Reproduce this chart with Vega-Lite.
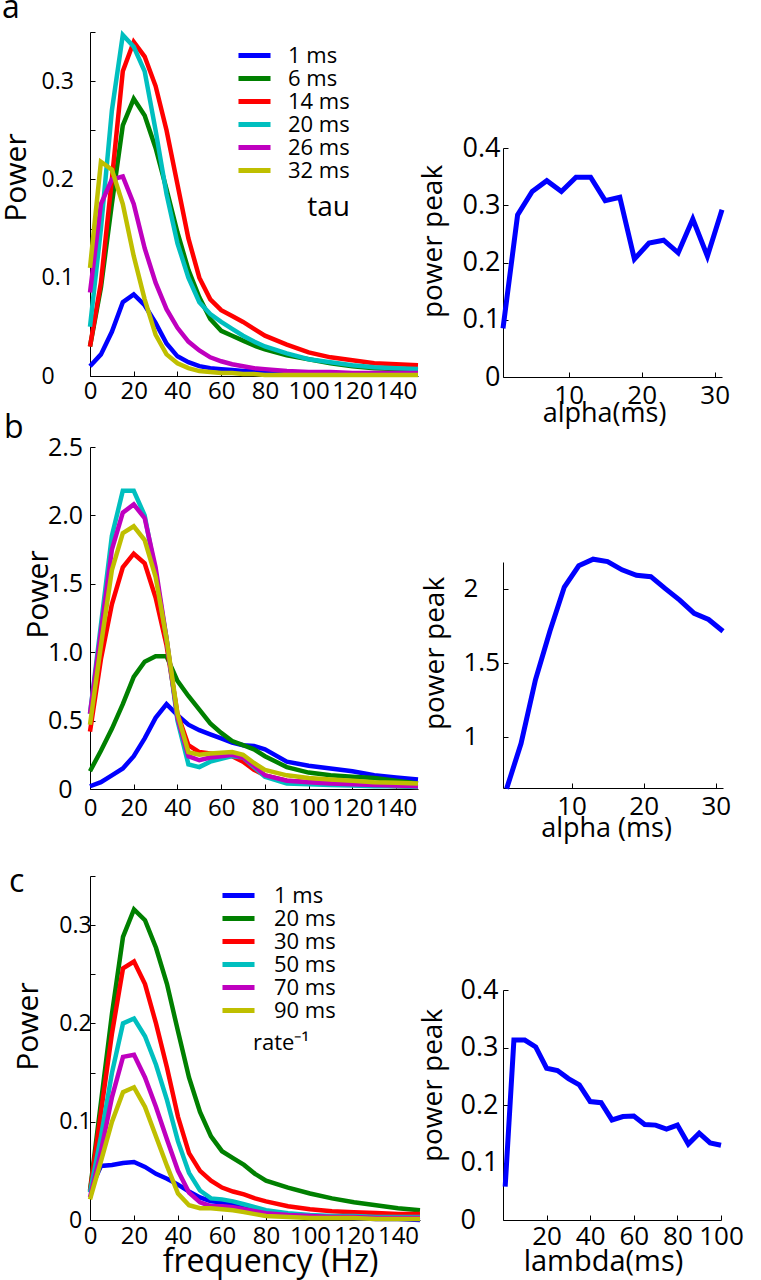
{
"$schema":"https://vega.github.io/schema/vega-lite/v6.json",
"padding":{"left":1,"top":-8,"right":0,"bottom":10},
"background":"white",
"config":{"font":"Open Sans","view":{"stroke":null},
"axis":{"grid":false,"domainColor":"black","tickColor":"black","labelColor":"black","titleColor":"black","titleFontWeight":"normal","domainWidth":1,"tickWidth":1,"labelOverlap":false,"labelFlush":false,"labelBound":false},
"legend":{"labelColor":"black","titleColor":"black","titleFontWeight":"normal"},
"title":{"color":"black","fontWeight":"normal"}},
"datasets":{
"spec_a":[
{"s":"1 ms","f":0,"p":0.010},{"s":"1 ms","f":5,"p":0.022},{"s":"1 ms","f":10,"p":0.045},{"s":"1 ms","f":15,"p":0.075},{"s":"1 ms","f":20,"p":0.083},{"s":"1 ms","f":25,"p":0.072},{"s":"1 ms","f":30,"p":0.054},{"s":"1 ms","f":35,"p":0.033},{"s":"1 ms","f":40,"p":0.020},{"s":"1 ms","f":45,"p":0.014},{"s":"1 ms","f":50,"p":0.010},{"s":"1 ms","f":55,"p":0.008},{"s":"1 ms","f":60,"p":0.007},{"s":"1 ms","f":65,"p":0.006},{"s":"1 ms","f":70,"p":0.005},{"s":"1 ms","f":75,"p":0.005},{"s":"1 ms","f":80,"p":0.004},{"s":"1 ms","f":90,"p":0.003},{"s":"1 ms","f":100,"p":0.003},{"s":"1 ms","f":110,"p":0.002},{"s":"1 ms","f":120,"p":0.002},{"s":"1 ms","f":130,"p":0.002},{"s":"1 ms","f":140,"p":0.002},{"s":"1 ms","f":150,"p":0.002},
{"s":"6 ms","f":0,"p":0.030},{"s":"6 ms","f":5,"p":0.090},{"s":"6 ms","f":10,"p":0.175},{"s":"6 ms","f":15,"p":0.255},{"s":"6 ms","f":20,"p":0.282},{"s":"6 ms","f":25,"p":0.265},{"s":"6 ms","f":30,"p":0.232},{"s":"6 ms","f":35,"p":0.190},{"s":"6 ms","f":40,"p":0.146},{"s":"6 ms","f":45,"p":0.108},{"s":"6 ms","f":50,"p":0.080},{"s":"6 ms","f":55,"p":0.058},{"s":"6 ms","f":60,"p":0.046},{"s":"6 ms","f":65,"p":0.041},{"s":"6 ms","f":70,"p":0.036},{"s":"6 ms","f":75,"p":0.031},{"s":"6 ms","f":80,"p":0.027},{"s":"6 ms","f":90,"p":0.021},{"s":"6 ms","f":100,"p":0.017},{"s":"6 ms","f":110,"p":0.013},{"s":"6 ms","f":120,"p":0.010},{"s":"6 ms","f":130,"p":0.008},{"s":"6 ms","f":140,"p":0.007},{"s":"6 ms","f":150,"p":0.006},
{"s":"14 ms","f":0,"p":0.030},{"s":"14 ms","f":5,"p":0.095},{"s":"14 ms","f":10,"p":0.200},{"s":"14 ms","f":15,"p":0.310},{"s":"14 ms","f":20,"p":0.340},{"s":"14 ms","f":25,"p":0.325},{"s":"14 ms","f":30,"p":0.295},{"s":"14 ms","f":35,"p":0.250},{"s":"14 ms","f":40,"p":0.195},{"s":"14 ms","f":45,"p":0.140},{"s":"14 ms","f":50,"p":0.100},{"s":"14 ms","f":55,"p":0.078},{"s":"14 ms","f":60,"p":0.067},{"s":"14 ms","f":65,"p":0.061},{"s":"14 ms","f":70,"p":0.055},{"s":"14 ms","f":75,"p":0.048},{"s":"14 ms","f":80,"p":0.041},{"s":"14 ms","f":90,"p":0.032},{"s":"14 ms","f":100,"p":0.024},{"s":"14 ms","f":110,"p":0.019},{"s":"14 ms","f":120,"p":0.016},{"s":"14 ms","f":130,"p":0.013},{"s":"14 ms","f":140,"p":0.012},{"s":"14 ms","f":150,"p":0.011},
{"s":"20 ms","f":0,"p":0.050},{"s":"20 ms","f":5,"p":0.150},{"s":"20 ms","f":10,"p":0.270},{"s":"20 ms","f":15,"p":0.347},{"s":"20 ms","f":20,"p":0.335},{"s":"20 ms","f":25,"p":0.310},{"s":"20 ms","f":30,"p":0.250},{"s":"20 ms","f":35,"p":0.185},{"s":"20 ms","f":40,"p":0.135},{"s":"20 ms","f":45,"p":0.100},{"s":"20 ms","f":50,"p":0.075},{"s":"20 ms","f":55,"p":0.063},{"s":"20 ms","f":60,"p":0.055},{"s":"20 ms","f":65,"p":0.048},{"s":"20 ms","f":70,"p":0.041},{"s":"20 ms","f":75,"p":0.035},{"s":"20 ms","f":80,"p":0.030},{"s":"20 ms","f":90,"p":0.023},{"s":"20 ms","f":100,"p":0.017},{"s":"20 ms","f":110,"p":0.014},{"s":"20 ms","f":120,"p":0.011},{"s":"20 ms","f":130,"p":0.009},{"s":"20 ms","f":140,"p":0.008},{"s":"20 ms","f":150,"p":0.007},
{"s":"26 ms","f":0,"p":0.085},{"s":"26 ms","f":5,"p":0.175},{"s":"26 ms","f":10,"p":0.200},{"s":"26 ms","f":15,"p":0.203},{"s":"26 ms","f":20,"p":0.175},{"s":"26 ms","f":25,"p":0.130},{"s":"26 ms","f":30,"p":0.095},{"s":"26 ms","f":35,"p":0.068},{"s":"26 ms","f":40,"p":0.049},{"s":"26 ms","f":45,"p":0.035},{"s":"26 ms","f":50,"p":0.026},{"s":"26 ms","f":55,"p":0.019},{"s":"26 ms","f":60,"p":0.015},{"s":"26 ms","f":65,"p":0.012},{"s":"26 ms","f":70,"p":0.010},{"s":"26 ms","f":75,"p":0.008},{"s":"26 ms","f":80,"p":0.007},{"s":"26 ms","f":90,"p":0.005},{"s":"26 ms","f":100,"p":0.004},{"s":"26 ms","f":110,"p":0.004},{"s":"26 ms","f":120,"p":0.003},{"s":"26 ms","f":130,"p":0.003},{"s":"26 ms","f":140,"p":0.003},{"s":"26 ms","f":150,"p":0.003},
{"s":"32 ms","f":0,"p":0.110},{"s":"32 ms","f":5,"p":0.218},{"s":"32 ms","f":10,"p":0.210},{"s":"32 ms","f":15,"p":0.175},{"s":"32 ms","f":20,"p":0.122},{"s":"32 ms","f":25,"p":0.078},{"s":"32 ms","f":30,"p":0.042},{"s":"32 ms","f":35,"p":0.022},{"s":"32 ms","f":40,"p":0.013},{"s":"32 ms","f":45,"p":0.008},{"s":"32 ms","f":50,"p":0.005},{"s":"32 ms","f":55,"p":0.004},{"s":"32 ms","f":60,"p":0.003},{"s":"32 ms","f":65,"p":0.003},{"s":"32 ms","f":70,"p":0.002},{"s":"32 ms","f":75,"p":0.002},{"s":"32 ms","f":80,"p":0.001},{"s":"32 ms","f":90,"p":0.001},{"s":"32 ms","f":100,"p":0.001},{"s":"32 ms","f":110,"p":0.001},{"s":"32 ms","f":120,"p":0.001},{"s":"32 ms","f":130,"p":0.001},{"s":"32 ms","f":140,"p":0.001},{"s":"32 ms","f":150,"p":0.001}
],
"spec_b":[
{"s":"1 ms","f":0,"p":0.02},{"s":"1 ms","f":5,"p":0.05},{"s":"1 ms","f":10,"p":0.10},{"s":"1 ms","f":15,"p":0.15},{"s":"1 ms","f":20,"p":0.24},{"s":"1 ms","f":25,"p":0.37},{"s":"1 ms","f":30,"p":0.52},{"s":"1 ms","f":35,"p":0.62},{"s":"1 ms","f":40,"p":0.54},{"s":"1 ms","f":45,"p":0.47},{"s":"1 ms","f":50,"p":0.43},{"s":"1 ms","f":55,"p":0.40},{"s":"1 ms","f":60,"p":0.37},{"s":"1 ms","f":65,"p":0.34},{"s":"1 ms","f":70,"p":0.32},{"s":"1 ms","f":75,"p":0.315},{"s":"1 ms","f":80,"p":0.29},{"s":"1 ms","f":90,"p":0.20},{"s":"1 ms","f":100,"p":0.17},{"s":"1 ms","f":110,"p":0.15},{"s":"1 ms","f":120,"p":0.13},{"s":"1 ms","f":130,"p":0.10},{"s":"1 ms","f":140,"p":0.085},{"s":"1 ms","f":150,"p":0.07},
{"s":"6 ms","f":0,"p":0.13},{"s":"6 ms","f":5,"p":0.28},{"s":"6 ms","f":10,"p":0.44},{"s":"6 ms","f":15,"p":0.62},{"s":"6 ms","f":20,"p":0.82},{"s":"6 ms","f":25,"p":0.93},{"s":"6 ms","f":30,"p":0.97},{"s":"6 ms","f":35,"p":0.97},{"s":"6 ms","f":40,"p":0.79},{"s":"6 ms","f":45,"p":0.68},{"s":"6 ms","f":50,"p":0.58},{"s":"6 ms","f":55,"p":0.48},{"s":"6 ms","f":60,"p":0.41},{"s":"6 ms","f":65,"p":0.35},{"s":"6 ms","f":70,"p":0.32},{"s":"6 ms","f":75,"p":0.29},{"s":"6 ms","f":80,"p":0.24},{"s":"6 ms","f":90,"p":0.16},{"s":"6 ms","f":100,"p":0.12},{"s":"6 ms","f":110,"p":0.10},{"s":"6 ms","f":120,"p":0.09},{"s":"6 ms","f":130,"p":0.08},{"s":"6 ms","f":140,"p":0.06},{"s":"6 ms","f":150,"p":0.04},
{"s":"14 ms","f":0,"p":0.42},{"s":"14 ms","f":5,"p":0.95},{"s":"14 ms","f":10,"p":1.35},{"s":"14 ms","f":15,"p":1.62},{"s":"14 ms","f":20,"p":1.72},{"s":"14 ms","f":25,"p":1.65},{"s":"14 ms","f":30,"p":1.40},{"s":"14 ms","f":35,"p":1.05},{"s":"14 ms","f":40,"p":0.55},{"s":"14 ms","f":45,"p":0.32},{"s":"14 ms","f":50,"p":0.27},{"s":"14 ms","f":55,"p":0.26},{"s":"14 ms","f":60,"p":0.25},{"s":"14 ms","f":65,"p":0.24},{"s":"14 ms","f":70,"p":0.20},{"s":"14 ms","f":75,"p":0.14},{"s":"14 ms","f":80,"p":0.10},{"s":"14 ms","f":90,"p":0.06},{"s":"14 ms","f":100,"p":0.05},{"s":"14 ms","f":110,"p":0.04},{"s":"14 ms","f":120,"p":0.035},{"s":"14 ms","f":130,"p":0.03},{"s":"14 ms","f":140,"p":0.02},{"s":"14 ms","f":150,"p":0.015},
{"s":"20 ms","f":0,"p":0.55},{"s":"20 ms","f":5,"p":1.20},{"s":"20 ms","f":10,"p":1.85},{"s":"20 ms","f":15,"p":2.18},{"s":"20 ms","f":20,"p":2.18},{"s":"20 ms","f":25,"p":2.00},{"s":"20 ms","f":30,"p":1.58},{"s":"20 ms","f":35,"p":1.10},{"s":"20 ms","f":40,"p":0.50},{"s":"20 ms","f":45,"p":0.18},{"s":"20 ms","f":50,"p":0.16},{"s":"20 ms","f":55,"p":0.20},{"s":"20 ms","f":60,"p":0.22},{"s":"20 ms","f":65,"p":0.24},{"s":"20 ms","f":70,"p":0.23},{"s":"20 ms","f":75,"p":0.16},{"s":"20 ms","f":80,"p":0.09},{"s":"20 ms","f":90,"p":0.04},{"s":"20 ms","f":100,"p":0.035},{"s":"20 ms","f":110,"p":0.03},{"s":"20 ms","f":120,"p":0.025},{"s":"20 ms","f":130,"p":0.02},{"s":"20 ms","f":140,"p":0.02},{"s":"20 ms","f":150,"p":0.015},
{"s":"26 ms","f":0,"p":0.55},{"s":"26 ms","f":5,"p":1.15},{"s":"26 ms","f":10,"p":1.75},{"s":"26 ms","f":15,"p":2.02},{"s":"26 ms","f":20,"p":2.08},{"s":"26 ms","f":25,"p":1.98},{"s":"26 ms","f":30,"p":1.62},{"s":"26 ms","f":35,"p":1.10},{"s":"26 ms","f":40,"p":0.52},{"s":"26 ms","f":45,"p":0.24},{"s":"26 ms","f":50,"p":0.21},{"s":"26 ms","f":55,"p":0.23},{"s":"26 ms","f":60,"p":0.24},{"s":"26 ms","f":65,"p":0.25},{"s":"26 ms","f":70,"p":0.23},{"s":"26 ms","f":75,"p":0.17},{"s":"26 ms","f":80,"p":0.10},{"s":"26 ms","f":90,"p":0.06},{"s":"26 ms","f":100,"p":0.05},{"s":"26 ms","f":110,"p":0.04},{"s":"26 ms","f":120,"p":0.035},{"s":"26 ms","f":130,"p":0.03},{"s":"26 ms","f":140,"p":0.025},{"s":"26 ms","f":150,"p":0.02},
{"s":"32 ms","f":0,"p":0.47},{"s":"32 ms","f":5,"p":1.05},{"s":"32 ms","f":10,"p":1.60},{"s":"32 ms","f":15,"p":1.87},{"s":"32 ms","f":20,"p":1.92},{"s":"32 ms","f":25,"p":1.82},{"s":"32 ms","f":30,"p":1.55},{"s":"32 ms","f":35,"p":1.10},{"s":"32 ms","f":40,"p":0.55},{"s":"32 ms","f":45,"p":0.27},{"s":"32 ms","f":50,"p":0.25},{"s":"32 ms","f":55,"p":0.26},{"s":"32 ms","f":60,"p":0.265},{"s":"32 ms","f":65,"p":0.27},{"s":"32 ms","f":70,"p":0.25},{"s":"32 ms","f":75,"p":0.19},{"s":"32 ms","f":80,"p":0.14},{"s":"32 ms","f":90,"p":0.10},{"s":"32 ms","f":100,"p":0.08},{"s":"32 ms","f":110,"p":0.07},{"s":"32 ms","f":120,"p":0.06},{"s":"32 ms","f":130,"p":0.05},{"s":"32 ms","f":140,"p":0.045},{"s":"32 ms","f":150,"p":0.04}
],
"spec_c":[
{"s":"1 ms","f":0,"p":0.030},{"s":"1 ms","f":5,"p":0.055},{"s":"1 ms","f":10,"p":0.056},{"s":"1 ms","f":15,"p":0.058},{"s":"1 ms","f":20,"p":0.059},{"s":"1 ms","f":25,"p":0.054},{"s":"1 ms","f":30,"p":0.047},{"s":"1 ms","f":35,"p":0.042},{"s":"1 ms","f":40,"p":0.036},{"s":"1 ms","f":45,"p":0.029},{"s":"1 ms","f":50,"p":0.023},{"s":"1 ms","f":55,"p":0.019},{"s":"1 ms","f":60,"p":0.018},{"s":"1 ms","f":65,"p":0.016},{"s":"1 ms","f":70,"p":0.012},{"s":"1 ms","f":75,"p":0.009},{"s":"1 ms","f":80,"p":0.007},{"s":"1 ms","f":90,"p":0.005},{"s":"1 ms","f":100,"p":0.004},{"s":"1 ms","f":110,"p":0.003},{"s":"1 ms","f":120,"p":0.002},{"s":"1 ms","f":130,"p":0.001},{"s":"1 ms","f":140,"p":0.001},{"s":"1 ms","f":150,"p":0.0},
{"s":"20 ms","f":0,"p":0.030},{"s":"20 ms","f":5,"p":0.120},{"s":"20 ms","f":10,"p":0.210},{"s":"20 ms","f":15,"p":0.288},{"s":"20 ms","f":20,"p":0.316},{"s":"20 ms","f":25,"p":0.305},{"s":"20 ms","f":30,"p":0.277},{"s":"20 ms","f":35,"p":0.240},{"s":"20 ms","f":40,"p":0.192},{"s":"20 ms","f":45,"p":0.145},{"s":"20 ms","f":50,"p":0.110},{"s":"20 ms","f":55,"p":0.085},{"s":"20 ms","f":60,"p":0.070},{"s":"20 ms","f":65,"p":0.063},{"s":"20 ms","f":70,"p":0.056},{"s":"20 ms","f":75,"p":0.047},{"s":"20 ms","f":80,"p":0.040},{"s":"20 ms","f":90,"p":0.033},{"s":"20 ms","f":100,"p":0.027},{"s":"20 ms","f":110,"p":0.022},{"s":"20 ms","f":120,"p":0.018},{"s":"20 ms","f":130,"p":0.015},{"s":"20 ms","f":140,"p":0.012},{"s":"20 ms","f":150,"p":0.010},
{"s":"30 ms","f":0,"p":0.029},{"s":"30 ms","f":5,"p":0.110},{"s":"30 ms","f":10,"p":0.190},{"s":"30 ms","f":15,"p":0.256},{"s":"30 ms","f":20,"p":0.263},{"s":"30 ms","f":25,"p":0.240},{"s":"30 ms","f":30,"p":0.200},{"s":"30 ms","f":35,"p":0.155},{"s":"30 ms","f":40,"p":0.105},{"s":"30 ms","f":45,"p":0.068},{"s":"30 ms","f":50,"p":0.050},{"s":"30 ms","f":55,"p":0.040},{"s":"30 ms","f":60,"p":0.033},{"s":"30 ms","f":65,"p":0.029},{"s":"30 ms","f":70,"p":0.026},{"s":"30 ms","f":75,"p":0.022},{"s":"30 ms","f":80,"p":0.019},{"s":"30 ms","f":90,"p":0.014},{"s":"30 ms","f":100,"p":0.011},{"s":"30 ms","f":110,"p":0.009},{"s":"30 ms","f":120,"p":0.008},{"s":"30 ms","f":130,"p":0.007},{"s":"30 ms","f":140,"p":0.006},{"s":"30 ms","f":150,"p":0.006},
{"s":"50 ms","f":0,"p":0.028},{"s":"50 ms","f":5,"p":0.085},{"s":"50 ms","f":10,"p":0.150},{"s":"50 ms","f":15,"p":0.200},{"s":"50 ms","f":20,"p":0.205},{"s":"50 ms","f":25,"p":0.187},{"s":"50 ms","f":30,"p":0.158},{"s":"50 ms","f":35,"p":0.122},{"s":"50 ms","f":40,"p":0.080},{"s":"50 ms","f":45,"p":0.048},{"s":"50 ms","f":50,"p":0.030},{"s":"50 ms","f":55,"p":0.022},{"s":"50 ms","f":60,"p":0.021},{"s":"50 ms","f":65,"p":0.019},{"s":"50 ms","f":70,"p":0.016},{"s":"50 ms","f":75,"p":0.013},{"s":"50 ms","f":80,"p":0.010},{"s":"50 ms","f":90,"p":0.007},{"s":"50 ms","f":100,"p":0.005},{"s":"50 ms","f":110,"p":0.004},{"s":"50 ms","f":120,"p":0.004},{"s":"50 ms","f":130,"p":0.003},{"s":"50 ms","f":140,"p":0.003},{"s":"50 ms","f":150,"p":0.003},
{"s":"70 ms","f":0,"p":0.023},{"s":"70 ms","f":5,"p":0.070},{"s":"70 ms","f":10,"p":0.125},{"s":"70 ms","f":15,"p":0.166},{"s":"70 ms","f":20,"p":0.168},{"s":"70 ms","f":25,"p":0.145},{"s":"70 ms","f":30,"p":0.115},{"s":"70 ms","f":35,"p":0.082},{"s":"70 ms","f":40,"p":0.050},{"s":"70 ms","f":45,"p":0.028},{"s":"70 ms","f":50,"p":0.018},{"s":"70 ms","f":55,"p":0.014},{"s":"70 ms","f":60,"p":0.014},{"s":"70 ms","f":65,"p":0.013},{"s":"70 ms","f":70,"p":0.011},{"s":"70 ms","f":75,"p":0.009},{"s":"70 ms","f":80,"p":0.007},{"s":"70 ms","f":90,"p":0.005},{"s":"70 ms","f":100,"p":0.004},{"s":"70 ms","f":110,"p":0.003},{"s":"70 ms","f":120,"p":0.003},{"s":"70 ms","f":130,"p":0.002},{"s":"70 ms","f":140,"p":0.002},{"s":"70 ms","f":150,"p":0.002},
{"s":"90 ms","f":0,"p":0.021},{"s":"90 ms","f":5,"p":0.060},{"s":"90 ms","f":10,"p":0.100},{"s":"90 ms","f":15,"p":0.130},{"s":"90 ms","f":20,"p":0.135},{"s":"90 ms","f":25,"p":0.115},{"s":"90 ms","f":30,"p":0.085},{"s":"90 ms","f":35,"p":0.055},{"s":"90 ms","f":40,"p":0.027},{"s":"90 ms","f":45,"p":0.015},{"s":"90 ms","f":50,"p":0.012},{"s":"90 ms","f":55,"p":0.012},{"s":"90 ms","f":60,"p":0.011},{"s":"90 ms","f":65,"p":0.010},{"s":"90 ms","f":70,"p":0.008},{"s":"90 ms","f":75,"p":0.006},{"s":"90 ms","f":80,"p":0.004},{"s":"90 ms","f":90,"p":0.003},{"s":"90 ms","f":100,"p":0.002},{"s":"90 ms","f":110,"p":0.002},{"s":"90 ms","f":120,"p":0.002},{"s":"90 ms","f":130,"p":0.001},{"s":"90 ms","f":140,"p":0.001},{"s":"90 ms","f":150,"p":0.001}
],
"peak_a":[{"x":1,"v":0.085},{"x":3,"v":0.283},{"x":5,"v":0.324},{"x":7,"v":0.343},{"x":9,"v":0.324},{"x":11,"v":0.349},{"x":13,"v":0.349},{"x":15,"v":0.308},{"x":17,"v":0.314},{"x":19,"v":0.206},{"x":21,"v":0.234},{"x":23,"v":0.239},{"x":25,"v":0.217},{"x":27,"v":0.276},{"x":29,"v":0.211},{"x":31,"v":0.292}],
"peak_b":[{"x":1,"v":0.65},{"x":3,"v":0.955},{"x":5,"v":1.385},{"x":7,"v":1.713},{"x":9,"v":2.011},{"x":11,"v":2.154},{"x":13,"v":2.199},{"x":15,"v":2.183},{"x":17,"v":2.127},{"x":19,"v":2.090},{"x":21,"v":2.081},{"x":23,"v":2.0},{"x":25,"v":1.923},{"x":27,"v":1.833},{"x":29,"v":1.792},{"x":31,"v":1.713}],
"peak_c":[{"x":1,"v":0.058},{"x":5,"v":0.313},{"x":10,"v":0.313},{"x":15,"v":0.301},{"x":20,"v":0.264},{"x":25,"v":0.260},{"x":30,"v":0.246},{"x":35,"v":0.235},{"x":40,"v":0.206},{"x":45,"v":0.204},{"x":50,"v":0.174},{"x":55,"v":0.180},{"x":60,"v":0.181},{"x":65,"v":0.166},{"x":70,"v":0.165},{"x":75,"v":0.158},{"x":80,"v":0.165},{"x":85,"v":0.132},{"x":90,"v":0.151},{"x":95,"v":0.134},{"x":100,"v":0.130}]
},
"spacing":-11,
"resolve":{"scale":{"x":"independent","y":"independent","color":"independent"},"legend":{"color":"independent"}},
"hconcat":[
{"vconcat":[
 {"width":328,"height":344,"data":{"name":"spec_a"},
  "title":{"text":"a","anchor":"start","frame":"group","dx":-88,"offset":-29,"fontSize":32,"baseline":"alphabetic"},
  "mark":{"type":"line","strokeWidth":4.5},
  "encoding":{
   "x":{"field":"f","type":"quantitative","scale":{"domain":[0,150],"nice":false},"axis":{"title":null,"values":[0,20,40,60,80,100,120,140],"tickSize":-5,"labelPadding":8,"labelFontSize":24}},
   "y":{"field":"p","type":"quantitative","scale":{"domain":[0,0.35],"nice":false},"axis":{"title":"Power","titleFontSize":30,"titleX":-65,"titleY":145,"titleBaseline":"alphabetic","titleAlign":"center","titleAngle":-90,"values":[0,0.05,0.1,0.15,0.2,0.25,0.3,0.35],"labelExpr":"round(datum.value*100)%10==0 ? format(datum.value,'.1~f') : ''","tickSize":-5,"labelPadding":54,"labelAlign":"left","labelFontSize":23}},
   "color":{"field":"s","type":"nominal","scale":{"domain":["1 ms","6 ms","14 ms","20 ms","26 ms","32 ms"],"range":["#0000ff","#008000","#ff0000","#00bfbf","#bf00bf","#bfbf00"]},
    "legend":{"orient":"none","legendX":153,"legendY":12,"title":"tau","titleOrient":"bottom","titleAnchor":"end","titleFontSize":28,"titlePadding":12,"symbolType":"M-1.85,0H1.85","symbolSize":300,"symbolStrokeWidth":5,"labelFontSize":22,"labelOffset":22,"rowPadding":0,"padding":0}}}},
 {"width":1,"height":71,"data":{"values":[{}]},"mark":{"type":"text"},"encoding":{"text":{"value":""}}},
 {"width":328,"height":342,"data":{"name":"spec_b"},
  "title":{"text":"b","anchor":"start","frame":"group","dx":-86,"offset":-35,"fontSize":32,"baseline":"alphabetic"},
  "mark":{"type":"line","strokeWidth":4.5},
  "encoding":{
   "x":{"field":"f","type":"quantitative","scale":{"domain":[0,150],"nice":false},"axis":{"title":null,"values":[0,20,40,60,80,100,120,140],"tickSize":-5,"labelPadding":12,"labelFontSize":24}},
   "y":{"field":"p","type":"quantitative","scale":{"domain":[0,2.5],"nice":false},"axis":{"title":"Power","titleFontSize":30,"titleX":-43,"titleY":147,"titleBaseline":"alphabetic","titleAlign":"center","titleAngle":-90,"values":[0,0.5,1,1.5,2,2.5],"labelExpr":"datum.value==0 ? '0' : format(datum.value,'.1f')","tickSize":-5,"labelPadding":30,"labelAlign":"center","labelFontSize":25}},
   "color":{"field":"s","type":"nominal","scale":{"domain":["1 ms","6 ms","14 ms","20 ms","26 ms","32 ms"],"range":["#0000ff","#008000","#ff0000","#00bfbf","#bf00bf","#bfbf00"]},"legend":null}}},
 {"width":1,"height":87,"data":{"values":[{}]},"mark":{"type":"text"},"encoding":{"text":{"value":""}}},
 {"width":330,"height":344,"data":{"name":"spec_c"},
  "title":{"text":"c","anchor":"start","frame":"group","dx":-81,"offset":-59,"fontSize":32,"baseline":"alphabetic"},
  "mark":{"type":"line","strokeWidth":4.5},
  "encoding":{
   "x":{"field":"f","type":"quantitative","scale":{"domain":[0,150],"nice":false},"axis":{"title":"frequency (Hz)","titleFontSize":32,"titleX":180,"titleY":51,"titleBaseline":"alphabetic","titleAlign":"center","values":[0,20,40,60,80,100,120,140],"tickSize":-5,"labelPadding":9,"labelFontSize":24}},
   "y":{"field":"p","type":"quantitative","scale":{"domain":[0,0.35],"nice":false},"axis":{"title":"Power","titleFontSize":30,"titleX":-53,"titleY":150,"titleBaseline":"alphabetic","titleAlign":"center","titleAngle":-90,"values":[0,0.05,0.1,0.15,0.2,0.25,0.3,0.35],"labelExpr":"round(datum.value*100)%10==0 ? format(datum.value,'.1~f') : ''","tickSize":-5,"labelPadding":20,"labelAlign":"center","labelFontSize":23}},
   "color":{"field":"s","type":"nominal","scale":{"domain":["1 ms","20 ms","30 ms","50 ms","70 ms","90 ms"],"range":["#0000ff","#008000","#ff0000","#00bfbf","#bf00bf","#bfbf00"]},
    "legend":{"orient":"none","legendX":137,"legendY":8,"title":"rate⁻¹","titleOrient":"bottom","titleAnchor":"middle","titleFontSize":22,"titlePadding":11,"symbolType":"M-1.85,0H1.85","symbolSize":300,"symbolStrokeWidth":5,"labelFontSize":22,"labelOffset":24,"rowPadding":0,"padding":0}}}}
],"spacing":0,"bounds":"flush","resolve":{"scale":{"x":"independent","y":"independent","color":"independent"},"legend":{"color":"independent"}}},
{"vconcat":[
 {"width":1,"height":116,"data":{"values":[{}]},"mark":{"type":"text"},"encoding":{"text":{"value":""}}},
 {"width":219,"height":229,"data":{"name":"peak_a"},
  "mark":{"type":"line","strokeWidth":5,"color":"#0000ff"},
  "encoding":{
   "x":{"field":"x","type":"quantitative","scale":{"domain":[1,31],"nice":false},"axis":{"title":"alpha(ms)","titleFontSize":27,"titleX":101,"titleY":44,"titleBaseline":"alphabetic","titleAlign":"center","values":[10,20,30],"tickSize":-5,"labelPadding":10,"labelFontSize":26}},
   "y":{"field":"v","type":"quantitative","scale":{"domain":[0,0.4],"nice":false},"axis":{"title":"power peak","titleFontSize":28,"titleX":-62,"titleY":93,"titleBaseline":"alphabetic","titleAlign":"center","titleAngle":-90,"values":[0,0.1,0.2,0.3,0.4],"labelExpr":"datum.value==0 ? '0' : format(datum.value,'.1f')","tickSize":-5,"labelPadding":8,"labelFontSize":27}}}},
 {"width":1,"height":185,"data":{"values":[{}]},"mark":{"type":"text"},"encoding":{"text":{"value":""}}},
 {"width":220,"height":226,"data":{"name":"peak_b"},
  "mark":{"type":"line","strokeWidth":5,"color":"#0000ff"},
  "encoding":{
   "x":{"field":"x","type":"quantitative","scale":{"domain":[0.5,31],"nice":false},"axis":{"title":"alpha (ms)","titleFontSize":27,"titleX":103,"titleY":48,"titleBaseline":"alphabetic","titleAlign":"center","values":[10,20,30],"tickSize":-5,"labelPadding":10,"labelFontSize":26}},
   "y":{"field":"v","type":"quantitative","scale":{"domain":[0.655,2.18],"nice":false},"axis":{"title":"power peak","titleFontSize":28,"titleX":-60,"titleY":91,"titleBaseline":"alphabetic","titleAlign":"center","titleAngle":-90,"values":[1,1.5,2],"labelExpr":"format(datum.value,'~g')","tickSize":-5,"labelPadding":45,"labelAlign":"left","labelFontSize":26}}}},
 {"width":1,"height":202,"data":{"values":[{}]},"mark":{"type":"text"},"encoding":{"text":{"value":""}}},
 {"width":218,"height":230,"data":{"name":"peak_c"},
  "mark":{"type":"line","strokeWidth":5,"color":"#0000ff"},
  "encoding":{
   "x":{"field":"x","type":"quantitative","scale":{"domain":[0,100],"nice":false},"axis":{"title":"lambda(ms)","titleFontSize":29,"titleX":100,"titleY":50,"titleBaseline":"alphabetic","titleAlign":"center","values":[20,40,60,80,100],"tickSize":-5,"labelPadding":8,"labelFontSize":26}},
   "y":{"field":"v","type":"quantitative","scale":{"domain":[0,0.4],"nice":false},"axis":{"title":"power peak","titleFontSize":28,"titleX":-62,"titleY":95,"titleBaseline":"alphabetic","titleAlign":"center","titleAngle":-90,"values":[0,0.1,0.2,0.3,0.4],"labelExpr":"datum.value==0 ? '0' : format(datum.value,'.1f')","tickSize":-5,"labelPadding":48,"labelAlign":"left","labelFontSize":27}}}}
],"spacing":0,"bounds":"flush","resolve":{"scale":{"x":"independent","y":"independent","color":"independent"},"legend":{"color":"independent"}}}
]
}
